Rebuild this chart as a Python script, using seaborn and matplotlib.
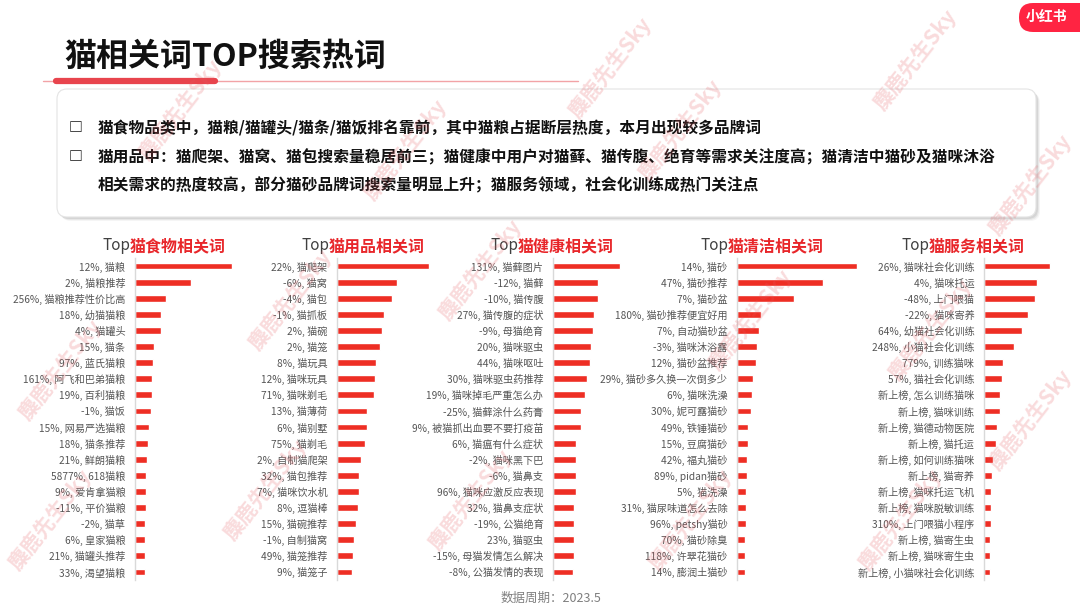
"""Recreate the cat-keyword TOP search heat chart (five horizontal bar panels)."""

import matplotlib.pyplot as plt
import pandas as pd
import seaborn as sns
from matplotlib.lines import Line2D
from matplotlib.patches import FancyBboxPatch

FIG_W, FIG_H = 1080, 604
BAR_RED = "#EE2E24"
TITLE_RED = "#E8262A"

# ---- data (bar lengths, relative heat index) ----
food_labels = ["12%, 猫粮", "2%, 猫粮推荐", "256%, 猫粮推荐性价比高", "18%, 幼猫猫粮", "4%, 猫罐头",
               "15%, 猫条", "97%, 蓝氏猫粮", "161%, 阿飞和巴弟猫粮", "19%, 百利猫粮", "-1%, 猫饭",
               "15%, 网易严选猫粮", "18%, 猫条推荐", "21%, 鲜朗猫粮", "5877%, 618猫粮", "9%, 爱肯拿猫粮",
               "-11%, 平价猫粮", "-2%, 猫草", "6%, 皇家猫粮", "21%, 猫罐头推荐", "33%, 渴望猫粮"]
food_heat = [97, 56, 31, 26, 26, 19, 18, 17, 16.5, 16, 14, 12.5, 11.5, 11, 10.5, 10.5, 10, 9.5, 9.5, 9.5]

supply_labels = ["22%, 猫爬架", "-6%, 猫窝", "-4%, 猫包", "-1%, 猫抓板", "2%, 猫碗", "2%, 猫笼",
                 "8%, 猫玩具", "12%, 猫咪玩具", "71%, 猫咪剃毛", "13%, 猫薄荷", "6%, 猫别墅", "75%, 猫剃毛",
                 "2%, 自制猫爬架", "32%, 猫包推荐", "7%, 猫咪饮水机", "8%, 逗猫棒", "15%, 猫碗推荐",
                 "-1%, 自制猫窝", "49%, 猫笼推荐", "9%, 猫笼子"]
supply_heat = [92, 60, 54.5, 46.5, 44.5, 42.5, 38.5, 37.5, 37, 29.5, 29.5, 27.5, 24, 22, 21.5, 21, 18.5,
               16.5, 15.5, 15]

health_labels = ["131%, 猫藓图片", "-12%, 猫藓", "-10%, 猫传腹", "27%, 猫传腹的症状", "-9%, 母猫绝育",
                 "20%, 猫咪驱虫", "44%, 猫咪呕吐", "30%, 猫咪驱虫药推荐", "19%, 猫咪掉毛严重怎么办",
                 "-25%, 猫藓涂什么药膏", "9%, 被猫抓出血要不要打疫苗", "6%, 猫瘟有什么症状", "-2%, 猫咪黑下巴",
                 "-6%, 猫鼻支", "96%, 猫咪应激反应表现", "32%, 猫鼻支症状", "-19%, 公猫绝育", "23%, 猫驱虫",
                 "-15%, 母猫发情怎么解决", "-8%, 公猫发情的表现"]
health_heat = [66.5, 45, 44.5, 41, 39.5, 38, 37, 33.5, 31.5, 28, 27.5, 22.5, 22.5, 22.5, 22.5, 21, 20.5,
               20.5, 20.5, 20]

clean_labels = ["14%, 猫砂", "47%, 猫砂推荐", "7%, 猫砂盆", "180%, 猫砂推荐便宜好用", "7%, 自动猫砂盆",
                "-3%, 猫咪沐浴露", "12%, 猫砂盆推荐", "29%, 猫砂多久换一次倒多少", "6%, 猫咪洗澡",
                "30%, 妮可露猫砂", "49%, 铁锤猫砂", "15%, 豆腐猫砂", "42%, 福丸猫砂", "89%, pidan猫砂",
                "5%, 猫洗澡", "31%, 猫尿味道怎么去除", "96%, petshy猫砂", "70%, 猫砂除臭", "118%, 许翠花猫砂",
                "14%, 膨润土猫砂"]
clean_heat = [120, 86, 57, 24, 21.5, 19.5, 19, 15.5, 15, 13.5, 11, 11, 10, 10, 9, 9, 8.5, 8, 8, 7.5]

service_labels = ["26%, 猫咪社会化训练", "4%, 猫咪托运", "-48%, 上门喂猫", "-22%, 猫咪寄养",
                  "64%, 幼猫社会化训练", "248%, 小猫社会化训练", "779%, 训练猫咪", "57%, 猫社会化训练",
                  "新上榜, 怎么训练猫咪", "新上榜, 猫咪训练", "新上榜, 猫德动物医院", "新上榜, 猫托运",
                  "新上榜, 如何训练猫咪", "新上榜, 猫寄养", "新上榜, 猫咪托运飞机", "新上榜, 猫咪脱敏训练",
                  "310%, 上门喂猫小程序", "新上榜, 猫寄生虫", "新上榜, 猫咪寄生虫", "新上榜, 小猫咪社会化训练"]
service_heat = [65.5, 52.5, 51, 44, 38, 30, 19, 18, 15.5, 15.5, 13, 12, 9, 8, 6.5, 6.5, 6.5, 6, 6, 6]

panel_titles = ["猫食物相关词", "猫用品相关词", "猫健康相关词", "猫清洁相关词", "猫服务相关词"]

summary_lines = [
    "猫食物品类中，猫粮/猫罐头/猫条/猫饭排名靠前，其中猫粮占据断层热度，本月出现较多品牌词",
    "猫用品中：猫爬架、猫窝、猫包搜索量稳居前三；猫健康中用户对猫藓、猫传腹、绝育等需求关注度高；猫清洁中猫砂及猫咪沐浴",
    "相关需求的热度较高，部分猫砂品牌词搜索量明显上升；猫服务领域，社会化训练成热门关注点",
]

# layout in pixels
PANEL_AXIS_X = [135, 337, 553, 737, 984]
PANEL_TITLE_SPLIT = [130, 329, 518, 728, 929]
ROWS_TOP, ROWS_BOTTOM = 258, 580
PANEL_W = 125


def fx(x):
    return x / FIG_W


def fy(y):
    return 1 - y / FIG_H


def draw_panel(fig, left, split, labels, heat, title):
    ax = fig.add_axes([fx(left), fy(ROWS_BOTTOM), PANEL_W / FIG_W, (ROWS_BOTTOM - ROWS_TOP) / FIG_H])
    df = pd.DataFrame({"kw": labels, "heat": heat})
    sns.barplot(data=df, x="heat", y="kw", orient="h", color=BAR_RED, width=0.42,
                saturation=1, ax=ax)
    ax.set_xlim(0, PANEL_W)
    ax.set_ylim(len(labels) - 0.5, -0.5)
    ax.set_xlabel("")
    ax.set_ylabel("")
    ax.set_xticks([])
    ax.tick_params(axis="y", length=0, pad=7, labelsize=7.3, labelcolor="#555555")
    for side in ["top", "right", "bottom"]:
        ax.spines[side].set_visible(False)
    ax.spines["left"].set_color("#d9d9d9")
    ax.spines["left"].set_linewidth(1)
    ax.patch.set_alpha(0)

    fig.text(fx(split), fy(246), "Top", ha="right", va="center", fontsize=11, color="#404040")
    fig.text(fx(split), fy(246), title, ha="left", va="center", fontsize=11.5,
             fontweight="bold", color=TITLE_RED)


def main():
    sns.set_theme(style="white")
    plt.rcParams["font.family"] = ["Noto Sans CJK SC", "DejaVu Sans"]

    fig = plt.figure(figsize=(FIG_W / 100, FIG_H / 100), dpi=100)
    fig.patch.set_facecolor("white")

    # header
    fig.text(fx(64), fy(57), "猫相关词TOP搜索热词", ha="left", va="center", fontsize=23,
             fontweight="bold", color="#111111")
    fig.add_artist(Line2D([fx(43), fx(578)], [fy(81), fy(81)], color="#f2a3a6", lw=1))
    fig.add_artist(Line2D([fx(56), fx(215)], [fy(81), fy(81)], color="#e8444d", lw=4.5))

    # summary box with soft shadow
    inch = fig.dpi_scale_trans
    for off, alpha in [(4, 0.08), (3, 0.12), (2, 0.18)]:
        fig.add_artist(FancyBboxPatch((57 / 100 + off / 100, (604 - 217 - off) / 100), 979 / 100, 128 / 100,
                                      boxstyle="round,pad=0,rounding_size=0.1", transform=inch,
                                      facecolor="#888888", edgecolor="none", alpha=alpha))
    fig.add_artist(FancyBboxPatch((57 / 100, (604 - 217) / 100), 979 / 100, 128 / 100,
                                  boxstyle="round,pad=0,rounding_size=0.1", transform=inch,
                                  facecolor="white", edgecolor="#e4e4e4", lw=0.8))
    for y, text, bullet in zip([128, 157, 185], summary_lines, [True, True, False]):
        if bullet:
            fig.text(fx(76), fy(y), "□", ha="center", va="center", fontsize=10,
                     fontweight="bold", color="#111111")
        fig.text(fx(98), fy(y), text, ha="left", va="center", fontsize=11.3,
                 fontweight="bold", color="#111111")

    # badge
    fig.add_artist(FancyBboxPatch((1019 / 100, (604 - 32) / 100), 80 / 100, 29 / 100,
                                  boxstyle="round,pad=0,rounding_size=0.14", transform=inch,
                                  facecolor="#ff2442", edgecolor="none"))
    fig.text(fx(1047), fy(17), "小红书", ha="center", va="center", fontsize=10,
             fontweight="bold", color="white")

    panels = [
        (food_labels, food_heat),
        (supply_labels, supply_heat),
        (health_labels, health_heat),
        (clean_labels, clean_heat),
        (service_labels, service_heat),
    ]
    for left, split, (labels, heat), title in zip(PANEL_AXIS_X, PANEL_TITLE_SPLIT, panels, panel_titles):
        draw_panel(fig, left, split, labels, heat, title)

    fig.text(fx(551), fy(598), "数据周期：2023.5", ha="center", va="center", fontsize=9, color="#7f7f7f")

    # watermark
    marks = [(610, 68), (915, 60), (405, 150), (680, 130), (1030, 185), (60, 370), (290, 300),
             (265, 490), (480, 270), (50, 520), (470, 500), (690, 520), (750, 320), (930, 330),
             (900, 520), (180, 110), (1030, 420)]
    for x, y in marks:
        fig.text(fx(x), fy(y), "麋鹿先生Sky", ha="center", va="center", rotation=52, fontsize=15,
                 fontweight="bold", color="#e55a60", alpha=0.22, zorder=10)

    fig.savefig("out.png", dpi=100, facecolor="white")
    plt.close(fig)


if __name__ == "__main__":
    main()
